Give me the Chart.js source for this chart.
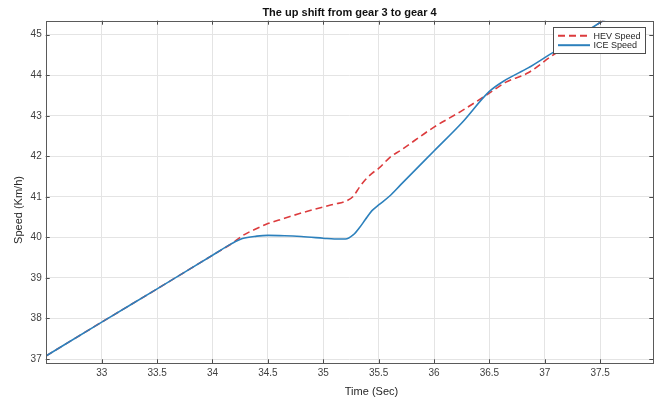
<!DOCTYPE html>
<html>
<head>
<meta charset="utf-8">
<script src="https://cdn.jsdelivr.net/npm/chart.js@4/dist/chart.umd.min.js"></script>
<style>
html,body{margin:0;padding:0;background:#fff;}
#wrap{width:664px;height:401px;position:relative;}
</style>
</head>
<body>
<div id="wrap"><canvas id="c" width="664" height="401"></canvas></div>
<script>
// ---- data ----
const timeSec  = [32.5, 33.0, 33.5, 34.0, 34.17, 34.27, 34.4, 34.5, 34.65, 34.8, 35.0, 35.1, 35.2, 35.27, 35.33, 35.38, 35.44, 35.5, 35.6, 35.7, 36.0, 36.25, 36.5, 36.65, 36.85, 37.05, 37.25, 37.5, 37.75, 38.0];
const iceSpeed = [37.08, 37.91, 38.73, 39.56, 39.84, 39.97, 40.03, 40.05, 40.04, 40.02, 39.98, 39.96, 39.96, 40.06, 40.25, 40.44, 40.66, 40.80, 41.02, 41.30, 42.13, 42.82, 43.60, 43.89, 44.18, 44.52, 44.85, 45.30, 45.70, 46.10];
const hevSpeed = [37.08, 37.91, 38.73, 39.56, 39.84, 40.04, 40.22, 40.34, 40.47, 40.60, 40.75, 40.82, 40.89, 41.01, 41.25, 41.42, 41.58, 41.70, 41.97, 42.15, 42.72, 43.12, 43.56, 43.83, 44.06, 44.45, 44.82, 45.30, 45.70, 46.10];
const xTickValues = [33, 33.5, 34, 34.5, 35, 35.5, 36, 36.5, 37, 37.5];
const yTickValues = [37, 38, 39, 40, 41, 42, 43, 44, 45];
const seriesNames = ['HEV Speed', 'ICE Speed'];
const chartTitle = 'The up shift from gear 3 to gear 4';
const xAxisTitle = 'Time (Sec)';
const yAxisTitle = 'Speed (Km/h)';

const FONT = '"Liberation Sans", Arial, Helvetica, sans-serif';
const hevColor = '#dc3b3d';
const iceColor = '#2c80bc';

const toPoints = (vals) => timeSec.map((t, i) => ({x: t, y: vals[i]}));

const decor = {
  id: 'decor',
  afterDatasetsDraw(chart) {
    const ctx = chart.ctx, a = chart.chartArea, xs = chart.scales.x, ys = chart.scales.y;
    ctx.save();
    // inward ticks on all four sides
    ctx.strokeStyle = '#4a4a4a';
    ctx.lineWidth = 1;
    const tl = 4;
    ctx.beginPath();
    xTickValues.forEach(v => {
      const px = Math.round(xs.getPixelForValue(v)) + 0.5;
      ctx.moveTo(px, a.bottom); ctx.lineTo(px, a.bottom - tl);
      ctx.moveTo(px, a.top); ctx.lineTo(px, a.top + tl);
    });
    yTickValues.forEach(v => {
      const py = Math.round(ys.getPixelForValue(v)) + 0.5;
      ctx.moveTo(a.left, py); ctx.lineTo(a.left + tl, py);
      ctx.moveTo(a.right, py); ctx.lineTo(a.right - tl, py);
    });
    ctx.stroke();
    // axes box
    ctx.strokeStyle = '#5a5a5a';
    ctx.strokeRect(Math.round(a.left) + 0.5, Math.round(a.top) + 0.5,
                   Math.round(a.right) - Math.round(a.left), Math.round(a.bottom) - Math.round(a.top));

    // legend box (inside, north-east)
    const lx = 553.5, ly = 27.5, lw = 92, lh = 26;
    ctx.fillStyle = '#ffffff';
    ctx.fillRect(lx, ly, lw, lh);
    ctx.strokeStyle = '#4d4d4d';
    ctx.strokeRect(lx, ly, lw, lh);
    const ds = chart.data.datasets;
    const rows = [35.7, 45.2];
    ds.forEach((d, i) => {
      ctx.beginPath();
      ctx.strokeStyle = d.borderColor;
      ctx.lineWidth = 2;
      ctx.setLineDash(d.borderDash || []);
      ctx.moveTo(558, rows[i]); ctx.lineTo(590, rows[i]);
      ctx.stroke();
      ctx.setLineDash([]);
      ctx.fillStyle = '#262626';
      ctx.font = '9px ' + FONT;
      ctx.textAlign = 'left';
      ctx.textBaseline = 'middle';
      ctx.fillText(d.label, 593.5, rows[i] + 0.5);
    });

    // title
    ctx.fillStyle = '#111111';
    ctx.font = 'bold 11px ' + FONT;
    ctx.textAlign = 'center';
    ctx.textBaseline = 'middle';
    ctx.fillText(chartTitle, (a.left + a.right) / 2, 12.7);
    // x axis title
    ctx.fillStyle = '#262626';
    ctx.font = '11px ' + FONT;
    ctx.fillText(xAxisTitle, 371.5, 391.5);
    // y axis title
    ctx.save();
    ctx.translate(18.5, 210);
    ctx.rotate(-Math.PI / 2);
    ctx.fillText(yAxisTitle, 0, 0);
    ctx.restore();
    ctx.restore();
  }
};

new Chart(document.getElementById('c'), {
  type: 'line',
  data: {
    datasets: [
      {
        label: seriesNames[0],
        data: toPoints(hevSpeed),
        borderColor: hevColor,
        borderWidth: 1.6,
        borderDash: [7, 4],
        pointRadius: 0,
        fill: false,
        cubicInterpolationMode: 'monotone',
        order: 2
      },
      {
        label: seriesNames[1],
        data: toPoints(iceSpeed),
        borderColor: iceColor,
        borderWidth: 1.6,
        pointRadius: 0,
        fill: false,
        cubicInterpolationMode: 'monotone',
        order: 1
      }
    ]
  },
  options: {
    responsive: false,
    animation: false,
    devicePixelRatio: 1,
    layout: { padding: { top: 20.7, right: 10.7, bottom: 0, left: 0 } },
    plugins: {
      legend: { display: false },
      title: { display: false },
      tooltip: { enabled: false }
    },
    scales: {
      x: {
        type: 'linear',
        min: 32.494,
        max: 37.98,
        afterBuildTicks: (s) => { s.ticks = xTickValues.map(v => ({value: v})); },
        afterFit: (s) => { s.height = 37.7; },
        grid: { color: '#e4e4e4', lineWidth: 1, drawTicks: false },
        border: { display: false },
        ticks: {
          padding: 4,
          color: '#404040',
          font: { family: FONT, size: 10 },
          maxRotation: 0,
          autoSkip: false,
          callback: (v) => String(v)
        }
      },
      y: {
        type: 'linear',
        min: 36.894,
        max: 45.345,
        afterBuildTicks: (s) => { s.ticks = yTickValues.map(v => ({value: v})); },
        afterFit: (s) => { s.width = 45.7; },
        grid: { color: '#e4e4e4', lineWidth: 1, drawTicks: false },
        border: { display: false },
        ticks: {
          padding: 4,
          color: '#404040',
          font: { family: FONT, size: 10 },
          autoSkip: false,
          callback: (v) => String(v)
        }
      }
    }
  },
  plugins: [decor]
});
</script>
</body>
</html>
